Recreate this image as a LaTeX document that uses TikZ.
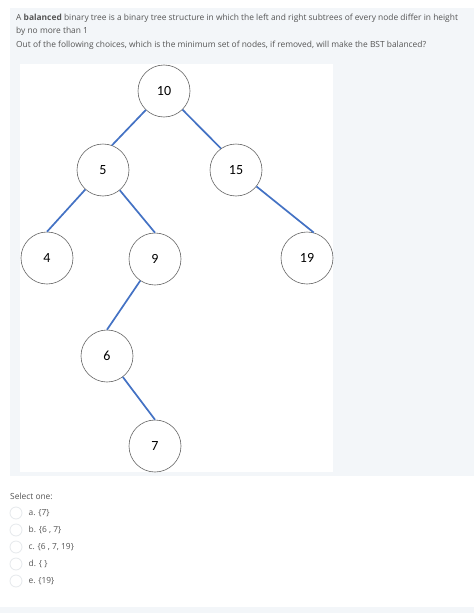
\documentclass[tikz,border=0pt]{standalone}
\usepackage{fontspec}
\setmainfont{Open Sans}
\newfontfamily\keyfont{Carlito}
\usetikzlibrary{positioning}
\definecolor{panelgrey}{HTML}{F3F6F9}
\definecolor{edgeblue}{HTML}{4472C4}
\definecolor{textgrey}{HTML}{555555}
\definecolor{ringgrey}{HTML}{E6E9EC}

\begin{document}
\begin{tikzpicture}[x=1pt, y=-1pt,
  every node/.style={font=\fontsize{8.4}{10}\selectfont, text=textgrey, inner sep=0pt},
  key/.style={circle, draw=black!60, line width=0.6pt, fill=white, minimum size=52pt, inner sep=0pt,
    font=\keyfont\fontsize{14}{16}\selectfont, text=black},
  link/.style={draw=edgeblue, line width=1.7pt},
  radio/.style={circle, draw=ringgrey, line width=0.8pt, fill=white, minimum size=12pt, inner sep=0pt}]
  \useasboundingbox[fill=white] (0,0) rectangle (474,613);
  % question panel and picture area
  \fill[panelgrey] (10,8) rectangle (474,476);
  \fill[white] (20,64) rectangle (333,472);
  \fill[panelgrey] (0,607) rectangle (474,613);

  \node[anchor=base west] (q1) at (16,20) {A \textbf{balanced} binary tree is a binary tree structure in which the left and right subtrees of every node differ in height};
  \node[anchor=base west] (q2) at (16,33) {by no more than 1};
  \node[anchor=base west] (q3) at (16,47) {Out of the following choices, which is the minimum set of nodes, if removed, will make the BST balanced?};

  % the tree
  \node[key] (k10) at (164,91) {10};
  \node[key] (k5) at (103,170) {5};
  \node[key] (k15) at (236,170) {15};
  \node[key] (k4) at (47,258) {4};
  \node[key] (k9) at (155,259) {9};
  \node[key] (k19) at (307,258) {19};
  \node[key] (k6) at (107,356) {6};
  \node[key] (k7) at (155,446) {7};
  \draw[link] (k10) -- (k5.70);
  \draw[link] (k10) -- (k15.125);
  \draw[link] (k5) -- (k4.north);
  \draw[link] (k5) -- (k9.north);
  \draw[link] (k15) -- (k19.75);
  \draw[link] (k9) -- (k6.north);
  \draw[link] (k6) -- (k7.north);

  % answers
  \node[anchor=base west] (sel) at (10,499) {Select one:};
  \node[radio] (ra) at (16,513) {};
  \node[radio] (rb) at (16,530) {};
  \node[radio] (rc) at (16,547) {};
  \node[radio] (rd) at (16,564) {};
  \node[radio] (re) at (16,581) {};
  \node[anchor=west, right=6pt of ra] (oa) {a. \{7\}};
  \node[anchor=west, right=6pt of rb] (ob) {b. \{6 , 7\}};
  \node[anchor=west, right=6pt of rc] (oc) {c. \{6 , 7, 19\}};
  \node[anchor=west, right=6pt of rd] (od) {d. \{ \}};
  \node[anchor=west, right=6pt of re] (oe) {e. \{19\}};
\end{tikzpicture}
\end{document}
